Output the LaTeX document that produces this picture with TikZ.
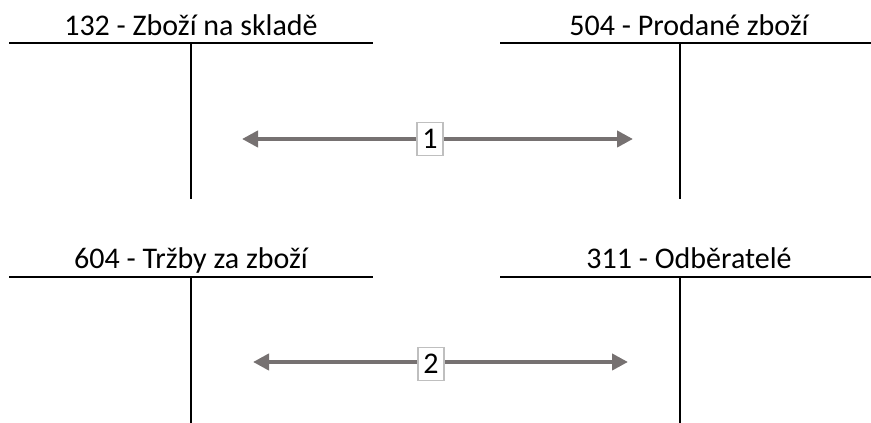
\documentclass[tikz,border=0pt]{standalone}
\usepackage{fontspec}
\setmainfont{Carlito}
\usetikzlibrary{arrows.meta}
\definecolor{arrowgray}{RGB}{118,113,113}
\definecolor{boxgray}{RGB}{191,191,191}

\begin{document}
\begin{tikzpicture}[x=0.75pt,y=-0.75pt,
    title/.style={anchor=base,font=\fontsize{22.5}{27}\selectfont},
    tline/.style={black,line width=1.1pt},
    flow/.style={arrowgray,line width=3pt,{Triangle[length=12pt,width=12pt]}-{Triangle[length=12pt,width=12pt]}},
    numbox/.style={draw=boxgray,line width=1.3pt,fill=white,minimum width=19.5pt,minimum height=24.75pt,inner sep=0pt,font=\fontsize{22.5}{27}\selectfont}]
  \useasboundingbox (0,0) rectangle (871,423);
  % 132 and 504
  \node[title] (zbozi) at (191,36) {132 - Zboží na skladě};
  \draw[tline] (9,43) -- (373,43);
  \draw[tline] (191,43) -- (191,199);
  \node[title] (prodane) at (689,36) {504 - Prodané zboží};
  \draw[tline] (500,43) -- (871,43);
  \draw[tline] (680,43) -- (680,199);
  % 604 and 311
  \node[title] (trzby) at (191,269) {604 - Tržby za zboží};
  \draw[tline] (9,277) -- (373,277);
  \draw[tline] (191,277) -- (191,423);
  \node[title] (odberatele) at (689,269) {311 - Odběratelé};
  \draw[tline] (500,277) -- (871,277);
  \draw[tline] (680,277) -- (680,423);
  % operations
  \coordinate (p1l) at (242,139);
  \coordinate (p1r) at (633,139);
  \draw[flow] (p1l) -- (p1r);
  \node[numbox] (op1) at (430,139) {1};
  \coordinate (p2l) at (253,362);
  \coordinate (p2r) at (628,362);
  \draw[flow] (p2l) -- (p2r);
  \node[numbox] (op2) at (431,364) {2};
\end{tikzpicture}
\end{document}
